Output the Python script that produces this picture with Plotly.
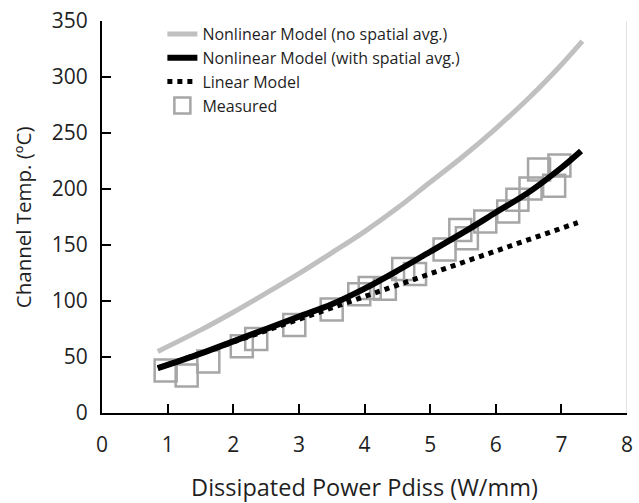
import plotly.graph_objects as go

# Model curves
p_nl_noavg = [0.85, 1.5, 2.0, 2.5, 3.0, 3.5, 4.0, 4.5, 5.0, 5.5, 6.0, 6.5, 7.0, 7.32]
t_nl_noavg = [55, 74, 90, 107, 124.5, 143, 162, 183, 206, 229, 254, 281, 311, 332]

p_nl_avg = [0.85, 1.5, 2.0, 2.5, 3.0, 3.5, 4.0, 4.5, 5.0, 5.5, 6.0, 6.5, 7.0, 7.3]
t_nl_avg = [40, 53, 64, 75, 86, 97, 111, 127, 144, 161, 179, 197, 219, 234]

p_lin = [0.85, 7.25]
t_lin = [40, 170]

# Measured data
p_meas = [0.97, 1.29, 1.62, 2.13, 2.35, 2.93, 3.50, 3.92, 4.08, 4.31, 4.59, 4.77,
          5.22, 5.46, 5.56, 5.84, 6.19, 6.33, 6.53, 6.66, 6.89, 6.97]
t_meas = [38, 33.5, 46, 59.5, 66, 78.5, 92.5, 106, 111.5, 111, 128.5, 124,
          146, 163.5, 156, 171, 180, 190.5, 200.5, 217.5, 203, 221]

x_ticks = [0, 1, 2, 3, 4, 5, 6, 7, 8]
y_ticks = [0, 50, 100, 150, 200, 250, 300, 350]

x_title = "Dissipated Power Pdiss (W/mm)"
y_title = "Channel Temp. (ºC)"

FONT = "Open Sans"
TXT = "#1f1f1f"

fig = go.Figure()
fig.add_trace(go.Scatter(x=p_meas, y=t_meas, mode="markers", name="Measured",
                         legendgroup="d", legendrank=4,
                         marker=dict(symbol="square-open", size=22, color="#a6a6a6",
                                     line=dict(width=2.5, color="#a6a6a6"))))
fig.add_trace(go.Scatter(x=p_nl_noavg, y=t_nl_noavg, mode="lines", line_shape="spline",
                         name="Nonlinear Model (no spatial avg.)", legendgroup="a", legendrank=1,
                         line=dict(color="#c0c0c0", width=5)))
fig.add_trace(go.Scatter(x=p_lin, y=t_lin, mode="lines",
                         name="Linear Model", legendgroup="c", legendrank=3,
                         line=dict(color="black", width=5, dash="dot")))
fig.add_trace(go.Scatter(x=p_nl_avg, y=t_nl_avg, mode="lines", line_shape="spline",
                         name="Nonlinear Model (with spatial avg.)", legendgroup="b", legendrank=2,
                         line=dict(color="black", width=6)))

fig.add_shape(type="line", xref="x", yref="y", x0=8, x1=8, y0=0, y1=350,
              line=dict(color="#d9d9d9", width=1.5), layer="below")

fig.add_annotation(text=y_title, xref="paper", yref="paper", x=-0.15, y=0.5,
                   xanchor="center", yanchor="middle", textangle=-90, showarrow=False,
                   font=dict(size=20.5, family=FONT, color=TXT))

fig.update_layout(
    width=639, height=503,
    margin=dict(l=102, r=6, t=15, b=89),
    paper_bgcolor="white", plot_bgcolor="white",
    font=dict(family=FONT, color=TXT),
    showlegend=True,
    legend=dict(x=0.115, y=1.01, xanchor="left", yanchor="top",
                bgcolor="rgba(0,0,0,0)", font=dict(size=16, color=TXT),
                traceorder="grouped", tracegroupgap=0),
    xaxis=dict(range=[0, 8], tickvals=x_ticks, ticktext=[str(v) for v in x_ticks],
               showgrid=False, zeroline=False, showline=True, linecolor="black", linewidth=2,
               ticks="inside", ticklen=9, tickwidth=2, tickcolor="black",
               tickfont=dict(size=21, family=FONT, color=TXT), ticklabelstandoff=12,
               ticklabeloverflow="allow",
               title=dict(text=x_title, font=dict(size=23.5, family=FONT, color=TXT), standoff=22)),
    yaxis=dict(range=[0, 350], tickvals=y_ticks, ticktext=[str(v) for v in y_ticks],
               showgrid=False, zeroline=False, showline=True, linecolor="black", linewidth=2,
               ticks="inside", ticklen=9, tickwidth=2, tickcolor="black",
               tickfont=dict(size=21, family=FONT, color=TXT), ticklabelstandoff=8),
)

fig.write_html("out.html")
